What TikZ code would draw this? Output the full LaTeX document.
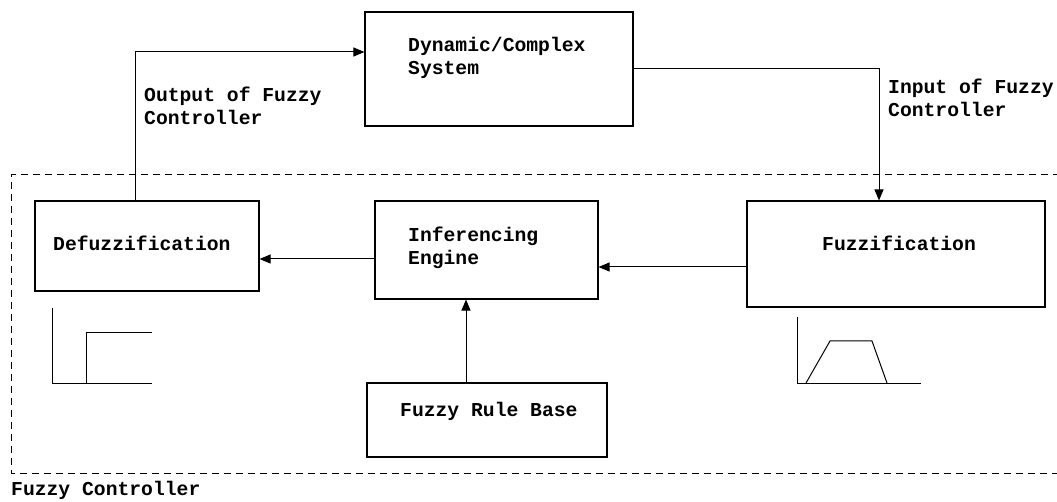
\documentclass[tikz,border=0pt]{standalone}
\usepackage{fontspec}
\setmonofont{Liberation Mono}
\usetikzlibrary{arrows.meta, positioning, calc}

\tikzset{
  block/.style={draw, line width=1.1bp, inner sep=0pt},
  lbl/.style={font=\fontsize{19.7bp}{23bp}\selectfont\ttfamily\bfseries,
              inner sep=0pt, align=left, anchor=base west},
  flow/.style={->, line width=1bp}
}

\begin{document}
\begin{tikzpicture}[x=1bp, y=-1bp, >={Triangle[length=11bp, width=9bp]}]
  \useasboundingbox (0,0) rectangle (1057,502);

  % Controller border
  \draw[dashed, dash pattern=on 7bp off 5bp, line width=1bp]
    (1060,175) -| (11,473) -- (1060,473);

  % Blocks
  \node[block, minimum width=268bp, minimum height=114bp] (dyn)   at (499,69)    {};
  \node[block, minimum width=224bp, minimum height=90bp]  (defz)  at (147,246)   {};
  \node[block, minimum width=223bp, minimum height=98bp]  (infer) at (486.5,250) {};
  \node[block, minimum width=298bp, minimum height=106bp] (fuzz)  at (896,254)   {};
  \node[block, minimum width=240bp, minimum height=74bp]  (rules) at (487,420)   {};

  % Block texts (base = last line)
  \node[lbl] (dyntxt)   at (408,75)  {Dynamic/Complex\\System};
  \node[lbl] (defztxt)  at (53,251)  {Defuzzification};
  \node[lbl] (infertxt) at (408,265) {Inferencing\\Engine};
  \node[lbl] (fuzztxt)  at (822,251) {Fuzzification};
  \node[lbl] (rulestxt) at (400,416) {Fuzzy Rule Base};

  % Signal labels
  \node[lbl] (outtxt)  at (144,125) {Output of Fuzzy\\Controller};
  \node[lbl] (intxt)   at (888,117) {Input of Fuzzy\\Controller};
  \node[lbl] (ctrltxt) at (11,495)  {Fuzzy Controller};

  % Connections
  \draw[flow] ([xshift=-12bp]defz.north) |- ([yshift=17bp]dyn.west);
  \draw[flow] (dyn.east) -| ([xshift=-17bp]fuzz.north);
  \draw[flow] ([yshift=-13bp]fuzz.west) -- ([yshift=-13bp]fuzz.west -| infer.east);
  \draw[flow] ([yshift=-9bp]infer.west) -- ([yshift=-9bp]infer.west -| defz.east);
  \draw[flow] ([xshift=-21bp]rules.north) -- ([xshift=-21bp]rules.north |- infer.south);

  % Output membership (step)
  \draw[line width=1bp] (52,308) -- (52,383) -- (152,383);
  \draw[line width=1bp] (86,383) -- (86,333) -- (152,333);

  % Input membership (trapezoid)
  \draw[line width=1bp] (797,317) -- (797,383) -- (921,383);
  \draw[line width=1bp] (806,383) -- (830,341) -- (872,341) -- (887,383);
\end{tikzpicture}
\end{document}
